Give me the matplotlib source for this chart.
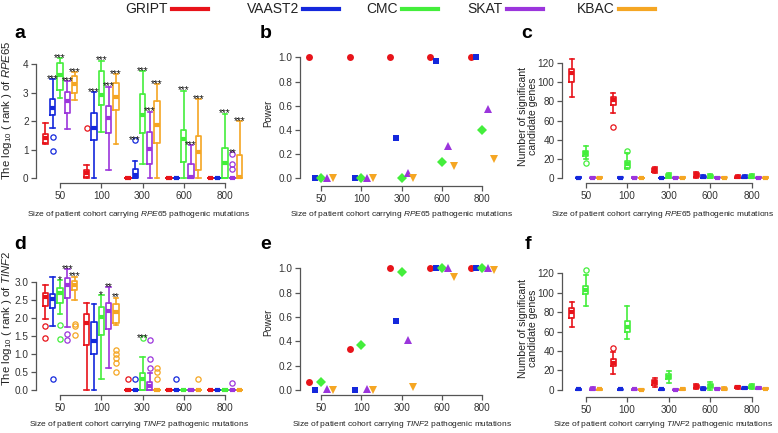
import matplotlib
matplotlib.use('Agg')
import matplotlib.pyplot as plt
from matplotlib.lines import Line2D

plt.rcParams['font.family'] = ['Liberation Sans', 'DejaVu Sans']
plt.rcParams['mathtext.fontset'] = 'custom'
plt.rcParams['mathtext.rm'] = 'Liberation Sans'
plt.rcParams['mathtext.it'] = 'Liberation Sans:italic'

methods = ['GRIPT', 'VAAST2', 'CMC', 'SKAT', 'KBAC']
colors = ['#E8131A', '#1428DC', '#44EE3C', '#9B35DC', '#F5A623']
markers = ['o', 's', 'D', '^', 'v']
sizes = ['50', '100', '300', '600', '800']

# ---- a: log10(rank) of RPE65, rows = cohort size, cols = method
a_lo = [[1.19, 1.77, 2.83, 1.73, 2.75], [0, 0, 1.61, 0.29, 1.19], [0, 0, 0.49, 0, 0], [0, 0, 0, 0, 0], [0, 0, 0, 0, 0]]
a_q1 = [[1.25, 2.22, 3.10, 2.28, 2.98], [0.03, 1.35, 2.58, 1.58, 2.40], [0, 0, 1.58, 0.50, 1.25], [0, 0, 0.58, 0, 0.29], [0, 0, 0, 0, 0]]
a_med = [[1.40, 2.48, 3.62, 2.72, 3.32], [0.18, 1.78, 2.93, 2.13, 2.85], [0, 0.10, 2.22, 1.03, 1.87], [0, 0, 1.37, 0.05, 0.91], [0, 0, 0.55, 0, 0.03]]
a_q3 = [[1.55, 2.78, 4.05, 3.02, 3.60], [0.28, 2.28, 3.75, 2.52, 3.35], [0, 0.32, 2.95, 1.64, 2.72], [0, 0, 1.70, 0.50, 1.50], [0, 0, 1.07, 0, 0.82]]
a_hi = [[1.95, 3.48, 4.22, 3.40, 3.72], [0.48, 3.02, 4.13, 3.22, 3.66], [0, 0.61, 3.76, 2.34, 3.30], [0, 0, 3.08, 1.16, 2.78], [0, 0, 2.27, 0, 2.00]]
a_out = {(0, 1): [1.44, 0.96], (1, 0): [1.78], (2, 1): [1.33], (4, 3): [0.86, 0.50, 0.32]}
a_stars = [['', '***', '***', '***', '***'], ['', '***', '***', '***', '***'], ['', '***', '***', '***', '***'],
           ['', '', '***', '***', '***'], ['', '', '***', '**', '***']]

# ---- b: power, RPE65
b_pow = [[1.0, 0, 0, 0, 0], [1.0, 0, 0, 0, 0], [1.0, 0.335, 0, 0.04, 0], [1.0, 0.97, 0.135, 0.27, 0.10], [1.0, 1.0, 0.40, 0.57, 0.16]]

# ---- c: number of significant candidate genes, RPE65
c_lo = [[84, 0, 20.1, 0, 0], [68.2, 0, 9.7, 0, 0], [5.2, 0, 0, 0, 0], [0.7, 0, 0, 0, 0], [0.5, 0.5, 0, 0, 0]]
c_q1 = [[99.7, 0, 23.2, 0, 0], [76.1, 0, 10.5, 0, 0], [6.2, 0, 0.7, 0, 0], [1.7, 0.3, 0.5, 0, 0], [0.8, 0.8, 0.5, 0, 0]]
c_med = [[109, 0.5, 26.6, 0.5, 0.5], [81.3, 0.5, 14.5, 0.5, 0], [8.7, 0, 2.4, 0.5, 0.5], [3.5, 1.0, 2.0, 0.5, 0.5], [1.5, 1.5, 1.5, 0.5, 0.5]]
c_q3 = [[113.5, 1, 28.4, 1, 1], [84.1, 1, 18, 1, 0.3], [11, 0.5, 4.2, 1, 1], [5.2, 2.0, 3.5, 1, 1], [2.5, 2.5, 3.0, 1, 1]]
c_hi = [[123.9, 1, 33.9, 1, 1], [88.9, 1, 26, 1, 0.3], [12.1, 0.5, 5.2, 1, 1], [6.2, 3.2, 4.2, 1, 1], [3.0, 3.0, 4.0, 1, 1]]
c_out = {(0, 2): [16.3], (1, 0): [52.9], (1, 2): [28.4]}

# ---- d: log10(rank) of TINF2
d_lo = [[1.96, 1.77, 2.11, 1.73, 2.49], [0, 0, 0.30, 0.59, 1.80], [0, 0, 0, 0, 0], [0, 0, 0, 0, 0], [0, 0, 0, 0, 0]]
d_q1 = [[2.33, 2.26, 2.42, 2.54, 2.78], [1.25, 0.98, 1.52, 1.69, 1.84], [0, 0, 0, 0, 0], [0, 0, 0, 0, 0], [0, 0, 0, 0, 0]]
d_med = [[2.58, 2.52, 2.69, 2.90, 2.91], [1.84, 1.36, 2.01, 2.19, 2.15], [0, 0, 0.31, 0.10, 0], [0, 0, 0, 0, 0], [0, 0, 0, 0, 0]]
d_q3 = [[2.69, 2.65, 2.83, 3.10, 3.02], [2.11, 1.89, 2.31, 2.40, 2.37], [0, 0, 0.47, 0.22, 0], [0, 0, 0, 0, 0], [0, 0, 0, 0, 0]]
d_hi = [[2.92, 3.12, 3.05, 3.35, 3.14], [2.42, 2.37, 2.63, 2.84, 2.56], [0, 0, 0.92, 0.47, 0], [0, 0, 0, 0, 0], [0, 0, 0, 0, 0]]
d_out = {(0, 0): [1.77, 1.44], (0, 1): [0.30], (0, 2): [1.80, 1.40], (0, 3): [1.55, 1.39], (0, 4): [1.83, 1.78, 1.52],
         (1, 4): [1.10, 0.99, 0.87, 0.75, 0.48], (2, 0): [0.30], (2, 1): [0.30], (2, 2): [1.43],
         (2, 3): [1.37, 0.85, 0.61], (2, 4): [0.61, 0.48, 0.30], (3, 1): [0.30], (3, 4): [0.30], (4, 3): [0.18]}
d_stars = [['', '', '*', '***', '***'], ['', '', '*', '**', '**'], ['', '', '***', '', ''],
           ['', '', '', '', ''], ['', '', '', '', '']]

# ---- e: power, TINF2
e_pow = [[0.067, 0, 0.067, 0.005, 0], [0.333, 0, 0.367, 0.005, 0], [1.0, 0.567, 0.967, 0.408, 0.027],
         [1.0, 1.0, 1.0, 1.0, 0.927], [1.0, 1.0, 1.0, 1.0, 0.99]]

# ---- f: number of significant candidate genes, TINF2
f_lo = [[65, 0, 86.3, 0, 0], [15.8, 0, 52.3, 0, 0], [3.1, 0, 6.9, 0, 0], [1.0, 0, 0, 0, 0], [1.0, 0.5, 1.0, 0.5, 0.5]]
f_q1 = [[74.3, 0, 98.3, 0, 0], [24.8, 0, 59.8, 0, 0], [4.8, 0, 11, 0, 0], [2.0, 0.5, 2.0, 0.5, 0], [1.5, 1.0, 1.5, 1.0, 0.5]]
f_med = [[79.8, 0.5, 102.8, 1.0, 0.5], [27.9, 0.5, 65, 0.5, 0], [7.6, 0.5, 13.1, 0, 0.5], [3.0, 1.0, 4.0, 1.0, 1.0], [2.5, 2.0, 3.0, 2.0, 1.0]]
f_q3 = [[83.9, 1, 107.3, 2, 1], [31.3, 1, 70.8, 1, 0.5], [10, 1, 15.8, 0.5, 1], [4.5, 2, 6, 1.5, 2], [3.5, 2.5, 4.5, 2.5, 1.5]]
f_hi = [[90.1, 1, 118.3, 3, 1], [38.5, 1, 86.3, 1, 0.5], [12.4, 1, 19.3, 1, 1.5], [5.5, 3, 8, 2, 3], [4, 3, 5.5, 3, 2]]
f_out = {(0, 2): [123.5], (1, 0): [43.3]}

W, H = 778, 433
AX = '#555555'
fig = plt.figure(figsize=(W / 100, H / 100), dpi=100)


def panel(left, right, top, bottom, g0, dx, zero, scale, yticks, ylabels):
    # axes placed in pixels; data mapped so group 1 sits at g0 and y=0 at zero
    ax = fig.add_axes([left / W, 1 - bottom / H, (right - left) / W, (bottom - top) / H])
    ax.set_xlim(1 + (left - g0) / dx, 1 + (right - g0) / dx)
    ax.set_ylim((zero - bottom) / scale, (zero - top) / scale)
    ax.patch.set_alpha(0)
    ax.spines['top'].set_visible(False)
    ax.spines['right'].set_visible(False)
    for s in ['left', 'bottom']:
        ax.spines[s].set_color(AX)
        ax.spines[s].set_linewidth(0.9)
    ax.spines['bottom'].set_bounds(1, 5)
    ax.spines['left'].set_bounds(yticks[0], yticks[-1])
    ax.set_xticks(range(1, 6), sizes)
    ax.set_yticks(yticks, ylabels)
    ax.tick_params(length=3.5, width=0.9, color=AX, labelsize=7.2, labelcolor='#333333')
    ax.tick_params(axis='x', pad=2.3)
    ax.tick_params(axis='y', pad=1.8)
    return ax


def boxes(ax, lo, q1, med, q3, hi, out, off, width, stars=None):
    for g in range(5):
        for m in range(5):
            c = colors[m]
            fl = out.get((g, m), [])
            st = dict(whislo=lo[g][m], q1=q1[g][m], med=med[g][m], q3=q3[g][m], whishi=hi[g][m], fliers=fl)
            x = g + 1 + (m - 2) * off
            ax.bxp([st], positions=[x], widths=width, capwidths=width * 0.85, manage_ticks=False,
                   boxprops=dict(color=c, lw=1.2), whiskerprops=dict(color=c, lw=1.2),
                   capprops=dict(color=c, lw=1.2), medianprops=dict(color=c, lw=3, solid_capstyle='butt'),
                   flierprops=dict(marker='o', mfc='none', mec=c, ms=3.8, mew=0.9))
            if stars and stars[g][m]:
                top = max([hi[g][m]] + fl)
                ax.annotate(stars[g][m], (x, top), xytext=(0, -2.0), textcoords='offset points',
                            ha='center', va='baseline', fontsize=7.3, color='#111111')


def power(ax, pw, off):
    ms = [5.0, 4.6, 4.6, 5.6, 5.6]
    for m in range(5):
        xs = [g + 1 + (m - 2) * off for g in range(5)]
        ys = [pw[g][m] for g in range(5)]
        ax.plot(xs, ys, ls='none', marker=markers[m], color=colors[m], ms=ms[m], mew=0, clip_on=False)


gene_a = r'$\mathit{RPE65}$'
gene_d = r'$\mathit{TINF2}$'

ax_a = panel(36, 245, 42, 182.7, 60, 41.25, 178.3, 28.5, [0, 1, 2, 3, 4], ['0', '1', '2', '3', '4'])
boxes(ax_a, a_lo, a_q1, a_med, a_q3, a_hi, a_out, 0.177, 0.13, a_stars)
ax_b = panel(300, 500, 42, 186, 321, 40.33, 178.3, 121, [0, 0.2, 0.4, 0.6, 0.8, 1.0],
             ['0.0', '0.2', '0.4', '0.6', '0.8', '1.0'])
power(ax_b, b_pow, 0.145)
ax_c = panel(562, 776, 42, 182.7, 585.7, 41.5, 178.3, 0.963, [0, 20, 40, 60, 80, 100, 120],
             ['0', '20', '40', '60', '80', '100', '120'])
boxes(ax_c, c_lo, c_q1, c_med, c_q3, c_hi, c_out, 0.169, 0.12)

ax_d = panel(36, 245, 255, 395, 60, 41.25, 389.7, 36, [0, 0.5, 1, 1.5, 2, 2.5, 3],
             ['0.0', '0.5', '1.0', '1.5', '2.0', '2.5', '3.0'])
boxes(ax_d, d_lo, d_q1, d_med, d_q3, d_hi, d_out, 0.177, 0.13, d_stars)
ax_e = panel(300, 500, 255, 395, 321, 40.33, 390, 121.7, [0, 0.2, 0.4, 0.6, 0.8, 1.0],
             ['0.0', '0.2', '0.4', '0.6', '0.8', '1.0'])
power(ax_e, e_pow, 0.145)
ax_f = panel(562, 776, 255, 396.7, 585.7, 41.5, 389.7, 0.97, [0, 20, 40, 60, 80, 100, 120],
             ['0', '20', '40', '60', '80', '100', '120'])
boxes(ax_f, f_lo, f_q1, f_med, f_q3, f_hi, f_out, 0.169, 0.12)


def ftext(x, y, s, **kw):
    fig.text(x / W, 1 - y / H, s, **kw)


# axis labels
xl = 'Size of patient cohort carrying %s pathogenic mutations'
for x, y, g in [(139, 214, gene_a), (402, 214, gene_a), (663, 214, gene_a),
                (139, 425, gene_d), (402, 425, gene_d), (663, 425, gene_d)]:
    ftext(x, y, xl % g, ha='center', va='center', fontsize=6.0, color='#222222')
ftext(7, 110, 'The log$_{10}$ ( rank ) of ' + gene_a, rotation=90, ha='center', va='center', fontsize=8.2, color='#222222')
ftext(7, 318, 'The log$_{10}$ ( rank ) of ' + gene_d, rotation=90, ha='center', va='center', fontsize=8.2, color='#222222')
ftext(268, 113, 'Power', rotation=90, ha='center', va='center', fontsize=7, color='#222222')
ftext(268, 322, 'Power', rotation=90, ha='center', va='center', fontsize=7, color='#222222')
for y in [116, 328]:
    ftext(528, y, 'Number of significant\ncandidate genes', rotation=90, ha='center', va='center',
          fontsize=7.6, color='#222222', linespacing=0.95)

# panel letters
for s, x, y in [('a', 20, 33), ('b', 266, 33), ('c', 527, 33), ('d', 20, 244), ('e', 266, 244), ('f', 528, 244)]:
    ftext(x, y, s, ha='center', va='center', fontsize=14, fontweight='bold')

# top legend: name followed by a coloured bar
leg_text_end = [168, 299, 398, 503, 615]
for m in range(5):
    x = leg_text_end[m]
    ftext(x, 9, methods[m], ha='right', va='center', fontsize=10, color='#222222')
    fig.add_artist(Line2D([(x + 4) / W, (x + 40) / W], [1 - 9 / H, 1 - 9 / H], color=colors[m], lw=3,
                          transform=fig.transFigure))

fig.savefig('out.png', dpi=100)
